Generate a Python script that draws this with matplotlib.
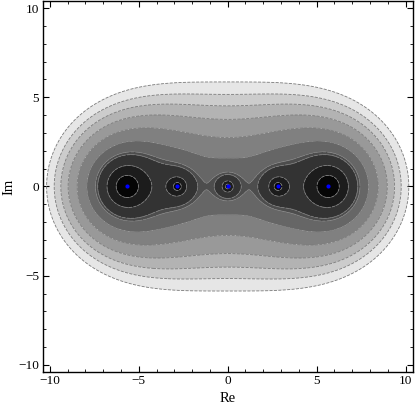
import numpy as np
import matplotlib
matplotlib.use("Agg")
import matplotlib.pyplot as plt

# points (blue dots) in the complex plane
root_re = [-5.657, -2.828, 0.0, 2.828, 5.657]
root_im = [0.0, 0.0, 0.0, 0.0, 0.0]
# charge of each point in the potential  f = -sum(w / |z - z_k|)
weights = [1.0, 0.2803, 0.169, 0.2803, 1.0]
# contour values of f (innermost first)
levels = [-1.859, -1.093, -0.7962, -0.7498, -0.6191,
          -0.522, -0.4584, -0.4187, -0.3891, -0.3605]
band_grays = [0.02, 0.11, 0.20, 0.30, 0.40, 0.50, 0.60, 0.70, 0.80, 0.90]
ticks_major = [-10, -5, 0, 5, 10]
tick_labels = ['\u221210', '\u22125', '0', '5', '10']

plt.rcParams['font.family'] = ['Liberation Serif', 'DejaVu Serif']

fig = plt.figure(figsize=(4.15, 4.09), dpi=100)
ax = fig.add_axes([0.1029, 0.0905, 0.8916, 0.9071])

lim = 10.4
xs = np.linspace(-lim, lim, 800)
X, Y = np.meshgrid(xs, xs)
F = np.zeros_like(X)
for xr, yr, w in zip(root_re, root_im, weights):
    d = np.maximum(np.hypot(X - xr, Y - yr), 1e-5)
    F -= w / d

ax.contourf(X, Y, F, levels=[-1e12] + levels, colors=[str(g) for g in band_grays],
            antialiased=True)
ax.contour(X, Y, F, levels=levels, colors='#7a7a7a', linewidths=0.6)
ax.plot(root_re, root_im, 'o', color='#0000ff', ms=3.0, mec='none')

ax.set_xlim(-lim, lim)
ax.set_ylim(-lim, lim)
ax.set_xticks(ticks_major)
ax.set_yticks(ticks_major)
ax.set_xticks(np.arange(-10, 11, 1), minor=True)
ax.set_yticks(np.arange(-10, 11, 1), minor=True)
ax.set_xticklabels(tick_labels)
ax.set_yticklabels(tick_labels)
ax.tick_params(which='both', direction='in', top=True, right=True, labelsize=9.5, pad=2.5)
ax.tick_params(which='major', length=4, width=0.8)
ax.tick_params(which='minor', length=2, width=0.6)
for s in ax.spines.values():
    s.set_linewidth(1.0)
ax.set_xlabel('Re', fontsize=10.5, labelpad=3)
ax.set_ylabel('Im', fontsize=10.5, labelpad=2)
fig.savefig("out.png", dpi=100)
